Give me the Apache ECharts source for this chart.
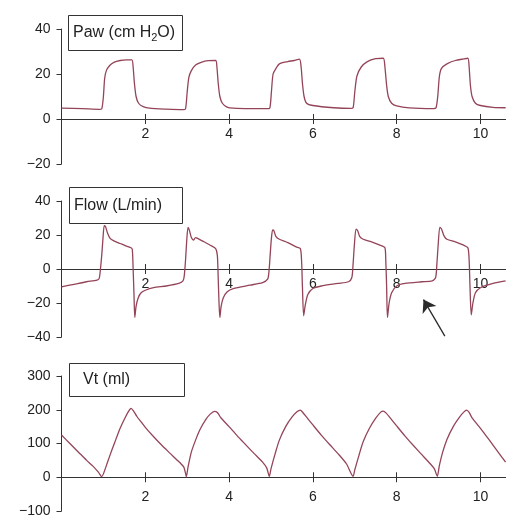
<!DOCTYPE html>
<html>
<head>
<meta charset="utf-8">
<script src="https://cdn.jsdelivr.net/npm/echarts@6/dist/echarts.min.js"></script>
<style>
html,body{margin:0;padding:0;background:#fff;}
#chart{width:525px;height:526px;}
</style>
</head>
<body>
<div id="chart"></div>
<script>
// ---- data ----
const xTicks = [2, 4, 6, 8, 10];

const pawTime = [0, 0.5, 0.9, 0.96, 1.0, 1.03, 1.07, 1.15, 1.25, 1.4, 1.55, 1.68, 1.71, 1.74, 1.78, 1.84, 1.95, 2.1, 2.5, 2.9,
  2.96, 3.0, 3.04, 3.1, 3.2, 3.35, 3.5, 3.68, 3.71, 3.74, 3.78, 3.84, 3.95, 4.1, 4.5, 4.9,
  4.97, 5.01, 5.05, 5.12, 5.2, 5.4, 5.55, 5.68, 5.72, 5.75, 5.79, 5.85, 6.0, 6.5, 6.9,
  6.96, 7.0, 7.05, 7.15, 7.3, 7.5, 7.68, 7.72, 7.76, 7.8, 7.88, 8.0, 8.3, 8.88,
  8.94, 8.98, 9.02, 9.07, 9.2, 9.4, 9.6, 9.7, 9.73, 9.76, 9.8, 9.88, 10.0, 10.3, 10.6];
const pawValues = [4.8, 4.6, 4.3, 4.5, 10, 18, 21.5, 23.8, 25.2, 26, 26.3, 26.3, 23, 16, 10, 7, 5.5, 4.8, 4.4, 4.2,
  4.5, 12, 18.5, 21.5, 24, 25.3, 25.9, 26, 23, 16, 10, 7, 5.3, 4.8, 4.6, 4.6,
  4.8, 12, 20, 22.5, 24.5, 25.5, 26, 26.6, 23, 16, 10, 7, 6, 5, 4.7,
  5, 12, 19, 23, 25.5, 26.8, 27, 23, 15, 10, 7, 5.8, 4.9, 4.6,
  5, 10, 19, 22.5, 24.5, 26, 26.7, 27, 23, 15, 10, 7, 6, 5.2, 5];

const flowTime = [0, 0.3, 0.6, 0.85, 0.9, 0.93, 0.96, 0.99, 1.02, 1.05, 1.1, 1.16, 1.25, 1.4, 1.55, 1.66, 1.69, 1.71, 1.73, 1.75, 1.78, 1.83, 1.9, 2.0, 2.2, 2.5, 2.8, 2.9,
  2.93, 2.96, 2.99, 3.02, 3.05, 3.1, 3.15, 3.2, 3.25, 3.4, 3.55, 3.68, 3.72, 3.74, 3.76, 3.78, 3.81, 3.86, 3.95, 4.1, 4.5, 4.8, 4.92,
  4.95, 4.98, 5.01, 5.04, 5.07, 5.12, 5.2, 5.4, 5.6, 5.7, 5.73, 5.75, 5.78, 5.82, 5.88, 6.0, 6.2, 6.6, 6.85,
  6.93, 6.96, 6.99, 7.03, 7.07, 7.12, 7.2, 7.4, 7.6, 7.72, 7.74, 7.76, 7.78, 7.82, 7.88, 8.0, 8.2, 8.6, 8.85,
  8.93, 8.96, 8.99, 9.03, 9.07, 9.13, 9.2, 9.4, 9.6, 9.7, 9.73, 9.75, 9.78, 9.82, 9.88, 10.0, 10.3, 10.6];
const flowValues = [-10.5, -9, -7.5, -6.5, -5.5, 0, 8, 18, 25.5, 25, 21, 18, 16.5, 15, 13.5, 12.5, 11.5, 0, -15, -28.5, -22, -17, -14, -12.5, -11, -10, -8.5, -7,
  -4, 5, 17, 24.5, 23, 18.5, 17, 18.5, 18, 16, 14, 12, 8, -5, -20, -28.5, -22, -17, -13.5, -11.5, -9.5, -8, -6,
  -2, 8, 18, 23, 22.5, 19, 17.5, 15.5, 13, 12, 5, -10, -27.5, -21, -15, -11.5, -10, -8.5, -7.5,
  -5, 3, 14, 23.5, 22.5, 19, 17.5, 16, 14, 12.5, 5, -10, -28.5, -20, -14, -10, -8.5, -7.5, -7,
  -5, 3, 14, 24.5, 23.5, 19.5, 17.5, 16, 14, 12.5, 5, -10, -27, -20, -14, -11, -8.5, -7];

const vtTime = [0, 0.2, 0.4, 0.6, 0.75, 0.88, 0.96, 1.0, 1.1, 1.2, 1.3, 1.4, 1.5, 1.6, 1.66, 1.72, 1.8, 1.9, 2.0, 2.2, 2.4, 2.6, 2.75, 2.85, 2.92, 2.96, 2.98,
  3.02, 3.1, 3.2, 3.3, 3.45, 3.55, 3.65, 3.72, 3.8, 4.0, 4.2, 4.4, 4.6, 4.8, 4.9, 4.96,
  5.0, 5.1, 5.2, 5.35, 5.5, 5.62, 5.7, 5.76, 5.85, 6.0, 6.2, 6.4, 6.6, 6.8, 6.96,
  7.0, 7.1, 7.2, 7.35, 7.5, 7.62, 7.68, 7.75, 7.85, 8.0, 8.2, 8.4, 8.6, 8.8, 8.9, 8.97,
  9.02, 9.1, 9.2, 9.35, 9.5, 9.6, 9.67, 9.73, 9.8, 10.0, 10.2, 10.4, 10.6];
const vtValues = [125, 100, 75, 50, 33, 15, 2, 10, 45, 80, 113, 145, 172, 195, 204, 196, 180, 164, 148, 120, 94, 70, 52, 40, 30, 12, 2,
  30, 75, 110, 140, 172, 187, 195, 192, 177, 150, 122, 96, 70, 45, 27, 3,
  25, 70, 110, 150, 178, 194, 199, 192, 178, 155, 125, 97, 70, 40, 3,
  22, 65, 105, 145, 175, 193, 196, 190, 175, 152, 122, 94, 67, 40, 25, 3,
  35, 75, 112, 150, 178, 193, 199, 192, 176, 145, 112, 78, 45];

const arrowFrom = [9.15, -39.5];
const arrowTo = [8.64, -18];

// ---- chart ----
const zip = (xs, ys) => xs.map((x, i) => [x, ys[i]]);
const lineColor = '#944458';
const axisColor = '#333';
const labelColor = '#222';
const fontFamily = '"Liberation Sans", Arial, Helvetica, sans-serif';
const minus = v => String(v).replace('-', '\u2212');

const grids = [
  {left: 61.5, right: 19.4, top: 29, height: 135},
  {left: 61.5, right: 19.4, top: 201, height: 136},
  {left: 61.5, right: 19.4, top: 376, height: 135}
];
const yRanges = [[-20, 40, 20], [-40, 40, 20], [-100, 300, 100]];
const xLabelMargins = [8, 8, 13];

const xAxes = [];
const yAxes = [];
grids.forEach((g, i) => {
  const r = yRanges[i];
  // place the x axis at y = 0 of this panel's value scale
  const zeroOffset = -g.height * (0 - r[0]) / (r[1] - r[0]);
  xAxes.push({
    gridIndex: i, type: 'value', min: 0, max: 10.6, interval: 2, position: 'bottom', offset: zeroOffset,
    axisLine: {onZero: false, lineStyle: {color: axisColor, width: 1}},
    axisTick: {customValues: xTicks, length: 5, lineStyle: {color: axisColor, width: 1}},
    axisLabel: {customValues: xTicks, fontSize: 14, color: labelColor, fontFamily: fontFamily, margin: xLabelMargins[i]},
    splitLine: {show: false}
  });
  xAxes.push({
    gridIndex: i, type: 'value', min: 0, max: 10.6, interval: 2, position: 'bottom', offset: zeroOffset,
    axisLine: {show: false, onZero: false},
    axisTick: {customValues: xTicks, inside: true, length: 5, lineStyle: {color: axisColor, width: 1}},
    axisLabel: {show: false},
    splitLine: {show: false}
  });
  yAxes.push({
    gridIndex: i, type: 'value', min: r[0], max: r[1], interval: r[2],
    axisLine: {show: true, onZero: false, lineStyle: {color: axisColor, width: 1}},
    axisTick: {show: true, length: 5, lineStyle: {color: axisColor, width: 1}},
    axisLabel: {fontSize: 14, color: labelColor, fontFamily: fontFamily, margin: 11, formatter: minus},
    splitLine: {show: false}
  });
});

const lineSeries = (data, i) => ({
  type: 'line', xAxisIndex: i * 2, yAxisIndex: i, data: data,
  showSymbol: false, smooth: 0.25, animation: false, silent: true,
  lineStyle: {color: lineColor, width: 1.3}
});

const flowSeries = lineSeries(zip(flowTime, flowValues), 1);
flowSeries.markLine = {
  silent: true, animation: false,
  symbol: ['none', 'arrow'], symbolSize: 12,
  label: {show: false},
  lineStyle: {color: '#2a2a2a', width: 1.3, type: 'solid'},
  itemStyle: {color: '#2a2a2a'},
  data: [[{coord: arrowFrom}, {coord: arrowTo}]]
};

const boxes = [
  {x: 68.5, y: 15.5, w: 114, h: 35, tx: 73, text: '{a|Paw (cm H}{s|2}{a|O)}'},
  {x: 69.5, y: 187.5, w: 113, h: 36, tx: 74, text: '{a|Flow (L/min)}'},
  {x: 69.5, y: 363.5, w: 115, h: 33, tx: 83, text: '{a|Vt (ml)}'}
];
const graphics = [];
boxes.forEach(b => {
  graphics.push({
    type: 'rect', shape: {x: b.x, y: b.y, width: b.w, height: b.h},
    style: {fill: '#fff', stroke: '#333', lineWidth: 1}, z: 10
  });
  graphics.push({
    type: 'text', x: b.tx, y: b.y + b.h / 2, z: 11,
    style: {
      text: b.text, verticalAlign: 'middle', align: 'left',
      rich: {
        a: {fontSize: 16, fontFamily: fontFamily, fill: '#222', lineHeight: 20},
        s: {fontSize: 11, fontFamily: fontFamily, fill: '#222', lineHeight: 20, padding: [10, 0, 0, 0]}
      }
    }
  });
});

const chart = echarts.init(document.getElementById('chart'), null, {renderer: 'canvas'});
chart.setOption({
  animation: false,
  backgroundColor: '#fff',
  textStyle: {fontFamily: fontFamily},
  grid: grids,
  xAxis: xAxes,
  yAxis: yAxes,
  series: [
    lineSeries(zip(pawTime, pawValues), 0),
    flowSeries,
    lineSeries(zip(vtTime, vtValues), 2)
  ],
  graphic: graphics
});
</script>
</body>
</html>
